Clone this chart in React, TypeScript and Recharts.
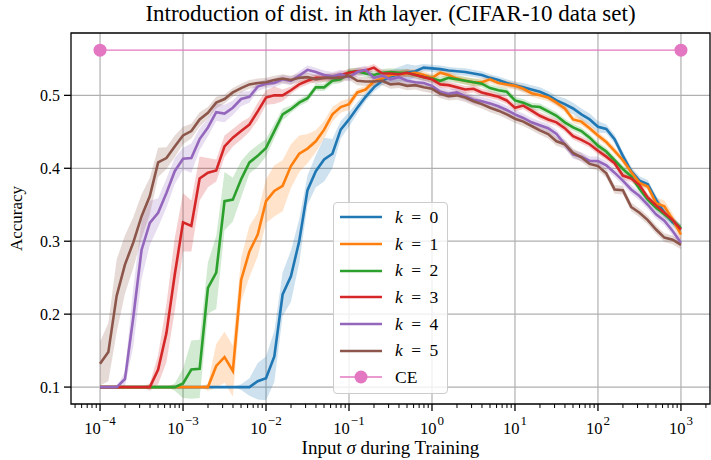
import React from "react";
import {
  Area,
  CartesianGrid,
  ComposedChart,
  Label,
  Legend,
  Line,
  ReferenceArea,
  XAxis,
  YAxis,
} from "recharts";

// log10 of the input sigma, one point every 0.1 decade
const logSigma = [
  -4.0, -3.9, -3.8, -3.7, -3.6, -3.5, -3.4, -3.3, -3.2, -3.1,
  -3.0, -2.9, -2.8, -2.7, -2.6, -2.5, -2.4, -2.3, -2.2, -2.1,
  -2.0, -1.9, -1.8, -1.7, -1.6, -1.5, -1.4, -1.3, -1.2, -1.1,
  -1.0, -0.9, -0.8, -0.7, -0.6, -0.5, -0.4, -0.3, -0.2, -0.1,
  0.0, 0.1, 0.2, 0.3, 0.4, 0.5, 0.6, 0.7, 0.8, 0.9,
  1.0, 1.1, 1.2, 1.3, 1.4, 1.5, 1.6, 1.7, 1.8, 1.9,
  2.0, 2.1, 2.2, 2.3, 2.4, 2.5, 2.6, 2.7, 2.8, 2.9,
  3.0,
];

const k0 = [
  0.1, 0.1, 0.1, 0.1, 0.1, 0.1, 0.1, 0.1, 0.1, 0.1,
  0.1, 0.1, 0.1, 0.1, 0.1, 0.1, 0.1, 0.1, 0.1, 0.108,
  0.112, 0.142, 0.227, 0.252, 0.3, 0.37, 0.396, 0.412, 0.42, 0.453,
  0.467, 0.483, 0.498, 0.511, 0.52, 0.526, 0.529, 0.531, 0.533, 0.538,
  0.537, 0.536, 0.534, 0.533, 0.532, 0.53, 0.528, 0.524, 0.521, 0.517,
  0.514, 0.511, 0.508, 0.505, 0.5, 0.493, 0.488, 0.482, 0.474, 0.467,
  0.457, 0.454, 0.44, 0.417, 0.396, 0.383, 0.378, 0.357, 0.339, 0.326,
  0.317,
];
const k1 = [
  0.1, 0.1, 0.1, 0.1, 0.1, 0.1, 0.1, 0.1, 0.1, 0.1,
  0.1, 0.1, 0.1, 0.1, 0.129, 0.141, 0.122, 0.247, 0.286, 0.309,
  0.355, 0.369, 0.376, 0.403, 0.42, 0.427, 0.437, 0.453, 0.474, 0.484,
  0.488, 0.504, 0.508, 0.519, 0.523, 0.528, 0.529, 0.53, 0.531, 0.528,
  0.524, 0.531, 0.528, 0.523, 0.52, 0.518, 0.518, 0.522, 0.517, 0.515,
  0.513, 0.509, 0.503, 0.5, 0.497, 0.49, 0.482, 0.467, 0.464, 0.455,
  0.445, 0.436, 0.424, 0.411, 0.395, 0.38, 0.375, 0.352, 0.348, 0.33,
  0.309,
];
const k2 = [
  0.1, 0.1, 0.1, 0.1, 0.1, 0.1, 0.1, 0.1, 0.1, 0.1,
  0.105, 0.124, 0.125, 0.236, 0.257, 0.355, 0.357, 0.385, 0.408, 0.417,
  0.428, 0.451, 0.474, 0.481, 0.49, 0.496, 0.511, 0.511, 0.52, 0.522,
  0.532, 0.533, 0.53, 0.528, 0.531, 0.532, 0.531, 0.531, 0.528, 0.525,
  0.523, 0.52, 0.524, 0.522, 0.52, 0.518, 0.516, 0.51, 0.507, 0.505,
  0.493, 0.49, 0.485, 0.484, 0.478, 0.472, 0.463, 0.456, 0.451, 0.442,
  0.431, 0.423, 0.411, 0.399, 0.389, 0.372, 0.357, 0.346, 0.337, 0.328,
  0.318,
];
const k3 = [
  0.1, 0.1, 0.1, 0.1, 0.1, 0.1, 0.1, 0.124, 0.174, 0.254,
  0.326, 0.321, 0.386, 0.394, 0.397, 0.43, 0.442, 0.451, 0.46, 0.478,
  0.497, 0.5, 0.5, 0.507, 0.515, 0.52, 0.524, 0.524, 0.525, 0.528,
  0.531, 0.533, 0.534, 0.538, 0.53, 0.53, 0.529, 0.531, 0.528, 0.525,
  0.522, 0.515, 0.514, 0.511, 0.508, 0.509, 0.504, 0.501, 0.498, 0.493,
  0.483, 0.486, 0.479, 0.472, 0.467, 0.463, 0.455, 0.444, 0.439, 0.433,
  0.424, 0.416, 0.407, 0.39, 0.386, 0.377, 0.36, 0.349, 0.339, 0.329,
  0.316,
];
const k4 = [
  0.1, 0.1, 0.1, 0.111, 0.195, 0.288, 0.325, 0.339, 0.366, 0.396,
  0.413, 0.414, 0.44, 0.456, 0.477, 0.475, 0.483, 0.495, 0.498, 0.512,
  0.516, 0.517, 0.522, 0.52, 0.527, 0.535, 0.532, 0.528, 0.526, 0.529,
  0.525, 0.532, 0.535, 0.524, 0.527, 0.522, 0.525, 0.52, 0.518, 0.517,
  0.513, 0.505, 0.502, 0.504, 0.499, 0.494, 0.492, 0.489, 0.485, 0.48,
  0.474, 0.469, 0.463, 0.459, 0.455, 0.447, 0.433, 0.419, 0.416, 0.41,
  0.41, 0.404, 0.394, 0.383, 0.371, 0.362, 0.35, 0.337, 0.328, 0.314,
  0.298,
];
const k5 = [
  0.132, 0.148, 0.225, 0.268, 0.298, 0.334, 0.362, 0.408, 0.414, 0.43,
  0.445, 0.451, 0.467, 0.476, 0.49, 0.495, 0.504, 0.51, 0.515, 0.517,
  0.518, 0.521, 0.523, 0.521, 0.524, 0.525, 0.522, 0.524, 0.524, 0.524,
  0.527, 0.52, 0.519, 0.519, 0.52, 0.515, 0.516, 0.513, 0.514, 0.511,
  0.509, 0.502, 0.499, 0.5, 0.497, 0.492, 0.488, 0.483, 0.479, 0.474,
  0.468, 0.464, 0.458, 0.452, 0.447, 0.437, 0.433, 0.421, 0.415, 0.406,
  0.403, 0.393, 0.371, 0.37, 0.347, 0.339, 0.329, 0.316, 0.305, 0.302,
  0.295,
];

// half width of the shaded band around each mean curve
const s0 = [
  0, 0, 0, 0, 0, 0, 0, 0, 0, 0,
  0, 0, 0, 0, 0, 0, 0, 0.004, 0.012, 0.025,
  0.03, 0.035, 0.03, 0.035, 0.03, 0.02, 0.022, 0.03, 0.02, 0.012,
  0.01, 0.008, 0.006, 0.006, 0.006, 0.008, 0.01, 0.012, 0.008, 0.005,
  0.005, 0.005, 0.005, 0.005, 0.005, 0.005, 0.005, 0.005, 0.005, 0.005,
  0.005, 0.006, 0.006, 0.006, 0.006, 0.006, 0.008, 0.008, 0.008, 0.008,
  0.008, 0.006, 0.006, 0.006, 0.006, 0.006, 0.006, 0.006, 0.006, 0.006,
  0.006,
];
const s1 = [
  0, 0, 0, 0, 0, 0, 0, 0, 0, 0,
  0, 0, 0, 0.005, 0.03, 0.035, 0.035, 0.03, 0.035, 0.03,
  0.03, 0.035, 0.035, 0.03, 0.025, 0.02, 0.015, 0.012, 0.01, 0.008,
  0.008, 0.005, 0.005, 0.005, 0.005, 0.005, 0.005, 0.005, 0.005, 0.005,
  0.005, 0.005, 0.005, 0.005, 0.005, 0.005, 0.005, 0.005, 0.005, 0.005,
  0.005, 0.005, 0.005, 0.005, 0.005, 0.005, 0.005, 0.005, 0.005, 0.005,
  0.005, 0.005, 0.005, 0.005, 0.005, 0.005, 0.005, 0.008, 0.008, 0.008,
  0.008,
];
const s2 = [
  0, 0, 0, 0, 0, 0, 0, 0, 0, 0.005,
  0.02, 0.04, 0.04, 0.035, 0.05, 0.04, 0.03, 0.025, 0.015, 0.015,
  0.012, 0.01, 0.008, 0.005, 0.005, 0.005, 0.005, 0.005, 0.005, 0.005,
  0.005, 0.005, 0.005, 0.005, 0.005, 0.005, 0.005, 0.005, 0.005, 0.005,
  0.005, 0.005, 0.005, 0.005, 0.005, 0.005, 0.005, 0.005, 0.005, 0.005,
  0.005, 0.005, 0.005, 0.005, 0.005, 0.005, 0.005, 0.005, 0.005, 0.005,
  0.005, 0.005, 0.005, 0.005, 0.005, 0.005, 0.005, 0.005, 0.005, 0.005,
  0.005,
];
const s3 = [
  0, 0, 0, 0, 0, 0, 0.005, 0.02, 0.04, 0.05,
  0.04, 0.035, 0.03, 0.02, 0.015, 0.015, 0.012, 0.012, 0.01, 0.012,
  0.01, 0.012, 0.008, 0.005, 0.005, 0.005, 0.005, 0.005, 0.005, 0.005,
  0.005, 0.005, 0.005, 0.005, 0.005, 0.005, 0.005, 0.005, 0.005, 0.005,
  0.005, 0.005, 0.005, 0.005, 0.005, 0.005, 0.005, 0.005, 0.005, 0.005,
  0.005, 0.005, 0.005, 0.005, 0.005, 0.005, 0.005, 0.005, 0.005, 0.005,
  0.005, 0.005, 0.005, 0.005, 0.005, 0.005, 0.005, 0.005, 0.005, 0.005,
  0.005,
];
const s4 = [
  0, 0, 0, 0.01, 0.04, 0.04, 0.03, 0.02, 0.02, 0.018,
  0.015, 0.02, 0.015, 0.012, 0.012, 0.012, 0.01, 0.01, 0.008, 0.006,
  0.006, 0.006, 0.006, 0.006, 0.006, 0.006, 0.006, 0.006, 0.006, 0.006,
  0.006, 0.006, 0.006, 0.006, 0.006, 0.006, 0.006, 0.006, 0.006, 0.006,
  0.006, 0.006, 0.006, 0.006, 0.006, 0.006, 0.006, 0.006, 0.006, 0.006,
  0.006, 0.006, 0.006, 0.006, 0.006, 0.006, 0.006, 0.006, 0.006, 0.006,
  0.006, 0.006, 0.006, 0.006, 0.006, 0.006, 0.006, 0.006, 0.006, 0.006,
  0.006,
];
const s5 = [
  0.03, 0.04, 0.05, 0.04, 0.035, 0.03, 0.025, 0.02, 0.015, 0.015,
  0.012, 0.01, 0.01, 0.008, 0.008, 0.006, 0.006, 0.006, 0.006, 0.006,
  0.006, 0.006, 0.006, 0.006, 0.006, 0.006, 0.006, 0.006, 0.006, 0.006,
  0.006, 0.006, 0.006, 0.006, 0.006, 0.006, 0.006, 0.006, 0.006, 0.006,
  0.006, 0.006, 0.006, 0.006, 0.006, 0.006, 0.006, 0.006, 0.006, 0.006,
  0.006, 0.006, 0.006, 0.006, 0.006, 0.006, 0.006, 0.006, 0.006, 0.006,
  0.006, 0.006, 0.006, 0.006, 0.006, 0.006, 0.006, 0.006, 0.006, 0.006,
  0.006,
];

// CE baseline, drawn between the two end points
const ceSigma = [-4.0, 3.0];
const ceAccuracy = [0.562, 0.562];

const series = [k0, k1, k2, k3, k4, k5];
const spreads = [s0, s1, s2, s3, s4, s5];
const colors = ["#1f77b4", "#ff7f0e", "#2ca02c", "#d62728", "#9467bd", "#8c564b"];
const ceColor = "#e377c2";

const yTicks = [0.1, 0.2, 0.3, 0.4, 0.5];
const majorTicks = [-4, -3, -2, -1, 0, 1, 2, 3];
const xDomain = [-4.35, 3.35];
const yDomain = [0.0768, 0.5855];

const minorTicks: number[] = [];
for (let e = -5; e <= 3; e++) {
  for (let m = 2; m <= 9; m++) {
    const v = e + Math.log10(m);
    if (v > xDomain[0] && v < xDomain[1]) minorTicks.push(v);
  }
}
const allTicks = [...majorTicks, ...minorTicks].sort((a, b) => a - b);

const rows = logSigma.map((x, i) => {
  const r: any = { x };
  series.forEach((s, j) => {
    r[`k${j}`] = s[i];
    r[`b${j}`] = [s[i] - spreads[j][i], s[i] + spreads[j][i]];
  });
  const c = ceSigma.indexOf(x);
  r.ce = c >= 0 ? ceAccuracy[c] : null;
  return r;
});

const serif = "'Liberation Serif', 'DejaVu Serif', serif";

function XTick(props: any) {
  const { x, y, payload } = props;
  const v = payload.value;
  const e = Math.round(v);
  if (Math.abs(v - e) > 1e-6) {
    return <line x1={x} x2={x} y1={y} y2={y + 4} stroke="#000" strokeWidth={1} />;
  }
  return (
    <g>
      <line x1={x} x2={x} y1={y} y2={y + 7} stroke="#000" strokeWidth={1.3} />
      <text x={x} y={y + 30} textAnchor="middle" fontFamily={serif} fontSize={16.5} fill="#000">
        10
        <tspan dx={1} dy={-9} fontSize={13}>{e < 0 ? `\u2212${-e}` : `${e}`}</tspan>
      </text>
    </g>
  );
}

function XTitle(props: any) {
  const { x, y, width } = props.viewBox;
  return (
    <text x={x + width / 2} y={y + 50} textAnchor="middle" fontFamily={serif} fontSize={19} fill="#000">
      Input <tspan fontStyle="italic">σ</tspan> during Training
    </text>
  );
}

function YTitle(props: any) {
  const { x, y, height } = props.viewBox;
  const cx = x + 22;
  const cy = y + height / 2;
  return (
    <text x={cx} y={cy} transform={`rotate(-90 ${cx} ${cy})`} textAnchor="middle" fontFamily={serif} fontSize={17} fill="#000">
      Accuracy
    </text>
  );
}

function LegendBox() {
  const row = { display: "flex", alignItems: "center", height: 26.7 } as const;
  return (
    <div
      style={{
        width: 115,
        height: 192,
        boxSizing: "border-box",
        border: "1px solid #cccccc",
        borderRadius: 4,
        background: "rgba(255,255,255,0.8)",
        paddingTop: 1,
        fontFamily: serif,
        fontSize: 17.5,
        color: "#000",
      }}
    >
      {colors.map((c, i) => (
        <div key={c} style={row}>
          <svg width={42} height={14} style={{ marginLeft: 6 }}>
            <line x1={0} x2={42} y1={7} y2={7} stroke={c} strokeWidth={2.6} />
          </svg>
          <span style={{ marginLeft: 13, wordSpacing: 4 }}>
            <i>k</i> = {i}
          </span>
        </div>
      ))}
      <div style={row}>
        <svg width={42} height={14} style={{ marginLeft: 6 }}>
          <line x1={0} x2={42} y1={7} y2={7} stroke={ceColor} strokeWidth={1.3} />
          <circle cx={21} cy={7} r={6.5} fill={ceColor} />
        </svg>
        <span style={{ marginLeft: 13 }}>CE</span>
      </div>
    </div>
  );
}

export default function App() {
  return (
    <div style={{ position: "absolute", left: 0, top: 0, width: 711, height: 460, background: "#fff" }}>
      <div
        style={{
          position: "absolute",
          left: 71,
          top: 2,
          width: 639,
          textAlign: "center",
          fontFamily: serif,
          fontSize: 23,
          lineHeight: "23px",
          color: "#000",
          whiteSpace: "nowrap",
          zIndex: 2,
        }}
      >
        Introduction of dist. in <i>k</i>th layer. (CIFAR-10 data set)
      </div>
      <ComposedChart width={711} height={460} data={rows} margin={{ top: 33, right: 1, bottom: 0, left: 0 }}>
        <CartesianGrid stroke="#b0b0b0" strokeWidth={1.2} verticalValues={majorTicks} horizontalValues={yTicks} />
        <XAxis
          type="number"
          dataKey="x"
          domain={xDomain}
          ticks={allTicks}
          interval={0}
          tick={<XTick />}
          tickLine={false}
          tickSize={0}
          tickMargin={0}
          axisLine={false}
          height={56}
          allowDataOverflow
        >
          <Label content={<XTitle />} />
        </XAxis>
        <YAxis
          type="number"
          domain={yDomain}
          ticks={yTicks}
          interval={0}
          tickFormatter={(v: number) => v.toFixed(1)}
          tick={{ fill: "#000", fontSize: 16, fontFamily: serif }}
          tickLine={{ stroke: "#000", strokeWidth: 1.3 }}
          tickSize={7}
          tickMargin={4}
          axisLine={false}
          width={71}
          allowDataOverflow
        >
          <Label content={<YTitle />} />
        </YAxis>
        {colors.map((c, j) => (
          <Area
            key={`band${j}`}
            type="linear"
            dataKey={`b${j}`}
            stroke="none"
            fill={c}
            fillOpacity={0.22}
            activeDot={false}
            legendType="none"
            isAnimationActive={false}
          />
        ))}
        {colors.map((c, j) => (
          <Line
            key={`line${j}`}
            type="linear"
            dataKey={`k${j}`}
            name={`k = ${j}`}
            stroke={c}
            strokeWidth={2.6}
            dot={false}
            activeDot={false}
            isAnimationActive={false}
          />
        ))}
        <Line
          type="linear"
          dataKey="ce"
          name="CE"
          stroke={ceColor}
          strokeWidth={1.3}
          connectNulls
          dot={{ r: 6.5, fill: ceColor, stroke: "none" }}
          activeDot={false}
          isAnimationActive={false}
        />
        <ReferenceArea
          x1={xDomain[0]}
          x2={xDomain[1]}
          y1={yDomain[0]}
          y2={yDomain[1]}
          fill="none"
          stroke="#000"
          strokeWidth={1.3}
          ifOverflow="visible"
        />
        <Legend
          layout="vertical"
          align="center"
          verticalAlign="middle"
          content={<LegendBox />}
          wrapperStyle={{ left: 333, top: 202, width: 115, height: 192 }}
        />
      </ComposedChart>
    </div>
  );
}
